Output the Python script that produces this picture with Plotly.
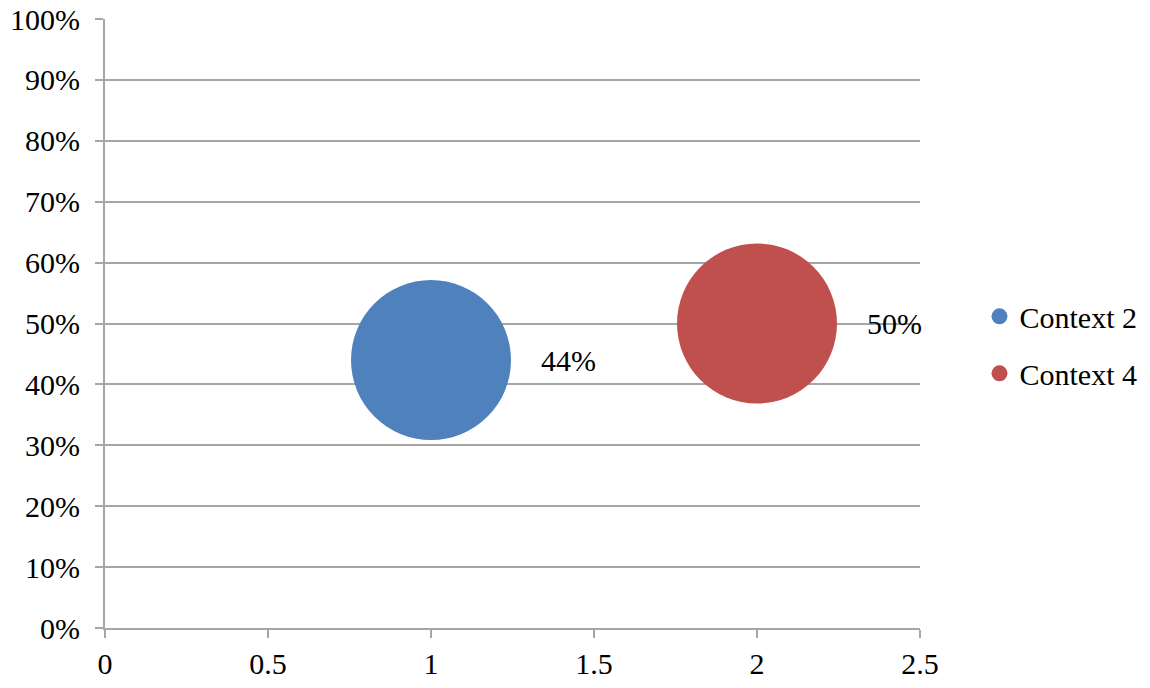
import plotly.graph_objects as go

series_names = ["Context 2", "Context 4"]
x_vals = [1, 2]
y_vals = [0.44, 0.50]
label_texts = ["44%", "50%"]
colors = ["#4F81BD", "#C0504D"]

FONT = "Liberation Serif"
GRID = "#A6A6A6"
FS = 30

fig = go.Figure()
for i, (name, x, y, c) in enumerate(zip(series_names, x_vals, y_vals, colors)):
    fig.add_trace(go.Scatter(
        x=[x], y=[y], mode="markers", name=name, legendgroup=f"g{i}",
        marker=dict(size=160, sizemode="diameter", color=c, line=dict(width=0), opacity=1),
        hoverinfo="skip",
    ))

for x, y, t in zip(x_vals, y_vals, label_texts):
    fig.add_annotation(x=x, y=y, text=t, showarrow=False, xanchor="left", yanchor="middle",
                       xshift=108, font=dict(family=FONT, size=FS, color="#000000"))

fig.update_layout(
    width=1150, height=688,
    margin=dict(l=105, r=230, t=19, b=60, autoexpand=False),
    paper_bgcolor="white", plot_bgcolor="white",
    font=dict(family=FONT, size=FS, color="#000000"),
    showlegend=True,
    legend=dict(x=1.073, y=0.465, xanchor="left", yanchor="middle",
                font=dict(family=FONT, size=FS), itemsizing="trace",
                tracegroupgap=15, bgcolor="rgba(0,0,0,0)"),
)
fig.update_xaxes(range=[0, 2.5], tickvals=[0, 0.5, 1, 1.5, 2, 2.5],
                 ticktext=["0", "0.5", "1", "1.5", "2", "2.5"],
                 showgrid=False, zeroline=False, showline=True, linecolor=GRID, linewidth=2,
                 ticks="outside", ticklen=8, tickwidth=2, tickcolor=GRID, automargin=False,
                 tickfont=dict(family=FONT, size=FS), fixedrange=True)
fig.update_yaxes(range=[0, 1], tickvals=[i / 10 for i in range(11)],
                 tickformat=".0%",
                 showgrid=True, gridcolor=GRID, gridwidth=2, zeroline=False,
                 showline=True, linecolor=GRID, linewidth=2,
                 ticks="outside", ticklen=8, tickwidth=2, tickcolor=GRID, automargin=False,
                 ticklabelstandoff=9,
                 tickfont=dict(family=FONT, size=FS), fixedrange=True)

fig.write_html("out.html", config={"displayModeBar": False},
               post_script="document.body.style.margin='0';document.body.style.overflow='hidden';")
